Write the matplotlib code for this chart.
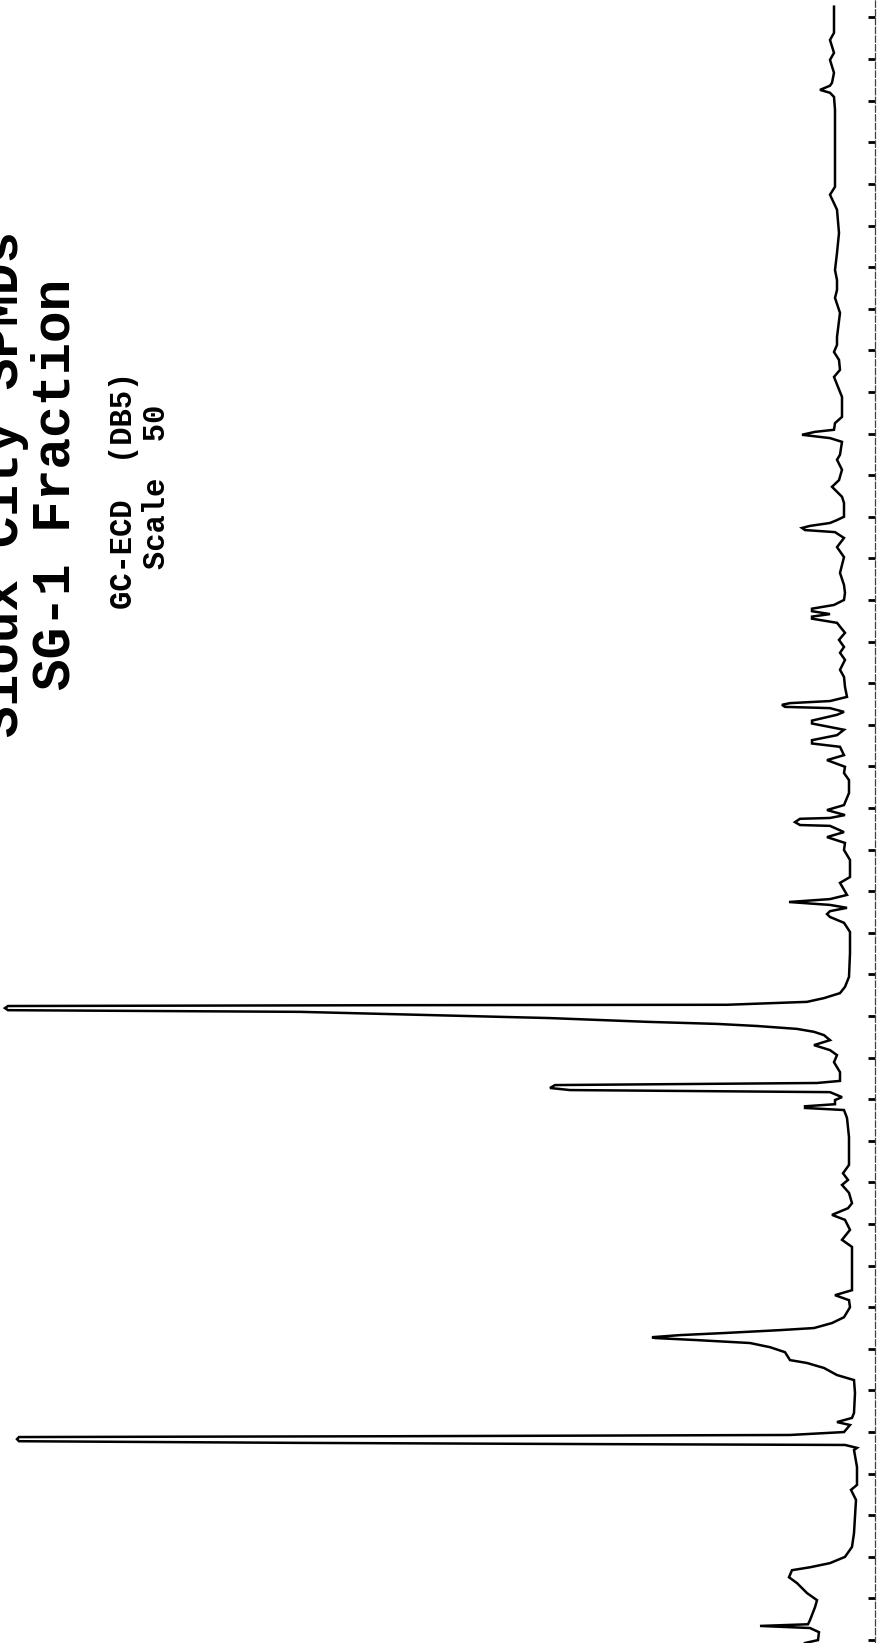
import matplotlib
matplotlib.use('Agg')
import matplotlib.pyplot as plt

# GC-ECD trace, read off the scanned chart strip: (retention time in tick units, detector signal)
# solvent front, peak 1 and peak 2
early_trace = [
    (-0.07, 4.5), (0.0, 3.2), (0.19, 3.1), (0.29, 4.0), (0.34, 9.0), (0.38, 4.2), (0.48, 4.0),
    (0.79, 3.5), (0.96, 3.3), (1.13, 4.3), (1.37, 5.3), (1.51, 6.1), (1.68, 5.8), (1.75, 4.0),
    (1.85, 2.0), (2.0, 0.5), (2.24, -0.2), (2.57, -0.4), (2.96, -0.5), (3.37, -0.6), (3.61, -0.1),
    (3.73, -0.7), (4.16, -0.7), (4.57, -0.4), (4.62, -0.7), (4.69, 0.5), (4.71, 25.0), (4.74, 55.0),
    (4.78, 83.1), (4.83, 83.3), (4.88, 83.1), (4.90, 45.0), (4.93, 6.0), (5.0, 0.6), (5.17, 0.0),
    (5.24, 1.3), (5.34, -0.2), (5.46, -0.4), (5.94, -0.5), (6.25, -0.4), (6.37, 1.3), (6.54, 2.6),
    (6.66, 4.3), (6.73, 6.0), (6.92, 6.5), (7.04, 8.0), (7.14, 10.0), (7.21, 15.3), (7.26, 19.5),
    (7.28, 19.8), (7.33, 17.0), (7.38, 12.6), (7.45, 7.0), (7.50, 3.6), (7.62, 1.8), (7.76, 0.6),
]

# peak 4 and the tall peak 3
middle_trace = [
    (8.0, 0.0), (8.17, 0.1), (8.29, 1.5), (8.41, -0.2), (8.97, -0.2), (9.45, -0.2), (9.62, 0.8),
    (9.86, 0.0), (10.10, 0.5), (10.22, 1.8), (10.38, 0.2), (10.50, -0.2), (10.75, 0.1), (10.94, 0.8),
    (11.06, 0.2), (11.22, 0.7), (11.42, 0.1), (12.09, 0.1), (12.55, 0.3), (12.74, 0.6), (12.79, 4.5),
    (12.83, 4.5), (12.88, 1.5), (12.98, 1.5), (13.05, 0.8), (13.17, 2.0), (13.22, 28.0), (13.27, 30.0),
    (13.34, 29.5), (13.39, 3.3), (13.44, 1.0), (13.65, 1.0), (13.77, 1.3), (13.89, 1.6), (14.06, 1.3),
    (14.18, 2.0), (14.30, 3.6), (14.42, 2.0), (14.54, 2.6), (14.62, 3.6), (14.69, 5.3), (14.76, 9.3),
    (14.81, 13.3), (14.86, 20.3), (14.95, 30.0), (15.10, 55.0), (15.14, 84.2), (15.19, 84.5),
    (15.24, 84.2), (15.26, 45.0), (15.27, 12.3), (15.34, 4.3), (15.43, 2.6), (15.55, 1.0), (15.70, 0.5),
    (15.94, 0.1), (16.51, 0.0), (17.02, 0.0), (17.24, 0.6), (17.38, 2.0), (17.45, 2.3), (17.52, 2.0),
    (17.60, 0.3), (17.67, 2.0), (17.74, 6.1), (17.81, 2.0), (17.91, 0.3), (18.20, 1.0), (18.34, 0.0),
    (18.51, 0.0),
]

# late cluster and tail
late_trace = [
    (18.75, 0.0), (18.99, 0.6), (19.16, 0.5), (19.30, 2.3), (19.42, 0.6), (19.57, 2.0), (19.59, 5.0),
    (19.66, 5.5), (19.74, 5.0), (19.76, 2.0), (19.83, 0.5), (19.95, 2.3), (20.07, 0.6), (20.36, 0.1),
    (20.67, 0.1), (20.84, 0.6), (20.99, 0.5), (21.15, 2.3), (21.27, 0.6), (21.47, 1.0), (21.55, 3.8),
    (21.63, 3.8), (21.75, 1.3), (21.88, 0.6), (22.03, 3.8), (22.10, 3.8), (22.24, 1.3), (22.31, 0.6),
    (22.40, 2.0), (22.43, 6.5), (22.48, 6.8), (22.52, 6.0), (22.57, 2.0), (22.67, 0.3), (22.91, 0.5),
    (23.15, 0.6), (23.32, 1.0), (23.56, 0.5), (23.73, 1.0), (23.87, 0.6), (24.04, 1.1), (24.21, 0.5),
    (24.45, 1.3), (24.55, 3.8), (24.60, 3.8), (24.66, 2.0), (24.73, 3.8), (24.79, 3.8), (24.88, 1.6),
    (25.0, 0.6), (25.17, 0.5), (25.36, 0.6), (25.65, 1.0), (26.03, 0.6), (26.27, 1.3), (26.49, 0.6),
    (26.63, 1.5), (26.68, 4.5), (26.73, 4.8), (26.78, 4.0), (26.85, 2.0), (26.92, 1.3), (27.0, 0.6),
    (27.33, 0.6), (27.48, 0.8), (27.72, 1.8), (27.88, 1.1), (28.13, 0.8), (28.37, 1.3), (28.49, 1.0),
    (28.80, 0.8), (28.89, 2.0), (28.97, 4.8), (29.04, 3.5), (29.09, 1.6), (29.25, 1.5), (29.40, 0.8),
    (29.88, 0.8), (30.36, 1.6), (30.53, 1.0), (30.77, 1.1), (30.96, 1.6), (31.13, 1.3), (31.32, 1.3),
    (31.90, 1.0), (32.26, 1.5), (32.45, 1.3), (32.69, 1.3), (32.93, 1.5), (33.34, 1.3), (33.82, 1.1),
    (34.38, 1.3), (34.74, 2.0), (34.93, 1.5), (35.41, 1.5), (36.06, 1.5), (36.78, 1.5), (37.09, 1.6),
    (37.19, 2.0), (37.26, 3.0), (37.36, 2.0), (37.43, 1.8), (37.67, 1.6), (37.98, 2.0), (38.15, 1.6),
    (38.46, 2.0), (38.63, 1.6), (39.18, 1.6), (39.26, 1.6),
]

tick_times = list(range(0, 40))

title_lines = ['Sioux City SPMDs', 'SG-1 Fraction']
info_lines = ['GC-ECD  (DB5)', 'Scale  50']

trace = early_trace + middle_trace + late_trace
times = [p[0] for p in trace]
signal = [p[1] for p in trace]

fig = plt.figure(figsize=(8.87, 16.43), dpi=100)
ax = fig.add_axes([0, 0, 1, 1])

# chart is rotated: signal grows to the left, time runs upward
ax.plot(signal, times, color='black', linewidth=1.8, solid_joinstyle='miter')
ax.set_xlim(85.0, -3.7)
ax.set_ylim(-0.07, 39.42)

for side in ['top', 'bottom', 'left']:
    ax.spines[side].set_visible(False)
ax.spines['right'].set_position(('data', -2.5))
ax.spines['right'].set_linestyle((0, (5, 2)))
ax.spines['right'].set_linewidth(0.9)
ax.spines['right'].set_color('0.25')
ax.yaxis.tick_right()
ax.set_yticks(tick_times)
ax.set_yticklabels([])
ax.set_xticks([])
ax.tick_params(axis='y', direction='in', length=5, width=2, color='black')

mono = 'Liberation Mono'
fig.text(18 / 887, 1 - 484 / 1643, title_lines[0], rotation=90, rotation_mode='anchor',
         ha='center', va='baseline', fontsize=38, family=mono, weight='bold')
fig.text(70 / 887, 1 - 484 / 1643, title_lines[1], rotation=90, rotation_mode='anchor',
         ha='center', va='baseline', fontsize=38, family=mono, weight='bold')
fig.text(132 / 887, 1 - 490 / 1643, info_lines[0], rotation=90, rotation_mode='anchor',
         ha='center', va='baseline', fontsize=22, family=mono, weight='bold')
fig.text(165 / 887, 1 - 487 / 1643, info_lines[1], rotation=90, rotation_mode='anchor',
         ha='center', va='baseline', fontsize=22, family=mono, weight='bold')

fig.savefig('out.png', dpi=100)
